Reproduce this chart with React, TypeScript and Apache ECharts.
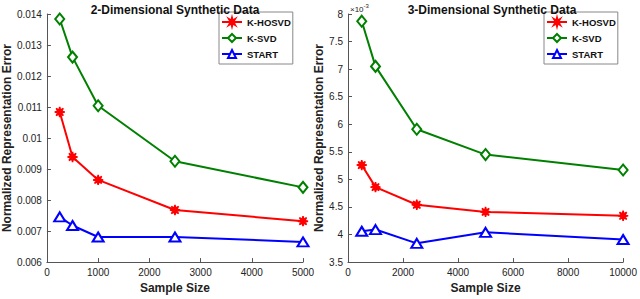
import React, { useEffect, useRef } from "react";
import * as echarts from "echarts";

const seriesNames = ["K-HOSVD", "K-SVD", "START"];
const colors = ["#ff0000", "#008000", "#0000ff"];

const x2D = [250, 500, 1000, 2500, 5000];
const khosvd2D = [0.01084, 0.00939, 0.00865, 0.00768, 0.00732];
const ksvd2D = [0.01384, 0.01261, 0.01104, 0.00925, 0.00841];
const start2D = [0.00746, 0.00718, 0.00681, 0.00681, 0.00665];

const x3D = [500, 1000, 2500, 5000, 10000];
// values in units of 1e-3
const khosvd3D = [5.26, 4.86, 4.54, 4.41, 4.34];
const ksvd3D = [7.87, 7.05, 5.91, 5.45, 5.17];
const start3D = [4.06, 4.09, 3.84, 4.04, 3.91];

const titles = ["2-Dimensional Synthetic Data", "3-Dimensional Synthetic Data"];
const yName = "Normalized Representation Error";
const xName = "Sample Size";

const asterisk =
  "path://M10,5 L6.848,5.765 L8.536,8.536 L5.765,6.848 L5,10 L4.235,6.848 L1.464,8.536 L3.152,5.765 L0,5 L3.152,4.235 L1.464,1.464 L4.235,3.152 L5,0 L5.765,3.152 L8.536,1.464 L6.848,4.235 Z";
const symbols = [asterisk, "emptyDiamond", "emptyTriangle"];
const symbolSizes = [10, [9, 11], [11, 9]];

const FONT = "Liberation Sans, Arial, sans-serif";

export default function App() {
  const ref = useRef<HTMLDivElement>(null);
  useEffect(() => {
    if (!ref.current) return;
    const chart = echarts.init(ref.current, null, { renderer: "svg" });
    const axisCommon = {
      axisLine: { show: true, lineStyle: { color: "#555", width: 1 } },
      axisTick: { show: true, inside: true, length: 4, lineStyle: { color: "#555" } },
      axisLabel: { color: "#222", fontSize: 10, fontFamily: FONT, margin: 5 },
      splitLine: { show: false },
      nameTextStyle: { color: "#222", fontSize: 12, fontWeight: "bold", fontFamily: FONT },
      nameLocation: "middle" as const,
    };
    const mk = (xs: number[], ys: number[], i: number, gi: number) => ({
      type: "line",
      name: seriesNames[i],
      xAxisIndex: gi,
      yAxisIndex: gi,
      data: xs.map((x, k) => [x, ys[k]]),
      symbol: symbols[i],
      symbolSize: symbolSizes[i],
      showAllSymbol: true,
      lineStyle: { color: colors[i], width: 2 },
      itemStyle: { color: colors[i], borderColor: colors[i], borderWidth: 1.5 },
      z: 3 - i,
    });
    const legendCommon = {
      orient: "vertical" as const,
      top: 12,
      padding: [5, 2, 5, 2],
      itemWidth: 20,
      itemHeight: 10,
      itemGap: 6,
      borderColor: "#888",
      borderWidth: 1,
      backgroundColor: "#fff",
      textStyle: { fontSize: 9.5, fontWeight: "bold", fontFamily: FONT, color: "#111" },
      data: seriesNames,
    };
    const xLabel = { ...axisCommon.axisLabel, formatter: (v: number) => String(v) };
    chart.setOption({
      animation: false,
      backgroundColor: "#fff",
      textStyle: { fontFamily: FONT },
      title: [
        {
          text: titles[0],
          left: 170,
          top: -1,
          textAlign: "center",
          textStyle: { fontSize: 12, fontWeight: "bold", color: "#111", fontFamily: FONT },
        },
        {
          text: titles[1],
          left: 487,
          top: -1,
          textAlign: "center",
          textStyle: { fontSize: 12, fontWeight: "bold", color: "#111", fontFamily: FONT },
        },
      ],
      legend: [
        { ...legendCommon, left: 219 },
        { ...legendCommon, left: 544 },
      ],
      grid: [
        { left: 41, right: 337, top: 14, bottom: 25 },
        { left: 348, right: 13, top: 14, bottom: 26 },
      ],
      xAxis: [
        { ...axisCommon, type: "value", gridIndex: 0, min: 0, max: 5000, interval: 1000, name: xName, nameGap: 19, axisLabel: xLabel },
        { ...axisCommon, type: "value", gridIndex: 1, min: 0, max: 10000, interval: 2000, name: xName, nameGap: 18, axisLabel: xLabel },
      ],
      yAxis: [
        {
          ...axisCommon,
          type: "value",
          gridIndex: 0,
          min: 0.006,
          max: 0.014,
          interval: 0.001,
          name: yName,
          nameGap: 30,
          axisLabel: { ...axisCommon.axisLabel, formatter: (v: number) => String(+v.toFixed(3)) },
        },
        {
          ...axisCommon,
          type: "value",
          gridIndex: 1,
          min: 3.5,
          max: 8,
          interval: 0.5,
          name: yName,
          nameGap: 23,
          axisLabel: { ...axisCommon.axisLabel, formatter: (v: number) => String(+v.toFixed(1)) },
        },
      ],
      graphic: [
        {
          type: "text",
          left: 350,
          top: 3,
          style: {
            text: "{a|×10}{b|-3}",
            rich: {
              a: { fontSize: 8, fontFamily: FONT, fill: "#222", verticalAlign: "bottom" },
              b: { fontSize: 6, fontFamily: FONT, fill: "#222", verticalAlign: "top", padding: [0, 0, 4, 0] },
            },
          },
        },
      ],
      series: [
        mk(x2D, khosvd2D, 0, 0),
        mk(x2D, ksvd2D, 1, 0),
        mk(x2D, start2D, 2, 0),
        mk(x3D, khosvd3D, 0, 1),
        mk(x3D, ksvd3D, 1, 1),
        mk(x3D, start3D, 2, 1),
      ],
    });
    return () => chart.dispose();
  }, []);
  return <div ref={ref} style={{ width: 640, height: 299, position: "absolute", left: 0, top: 0 }} />;
}
